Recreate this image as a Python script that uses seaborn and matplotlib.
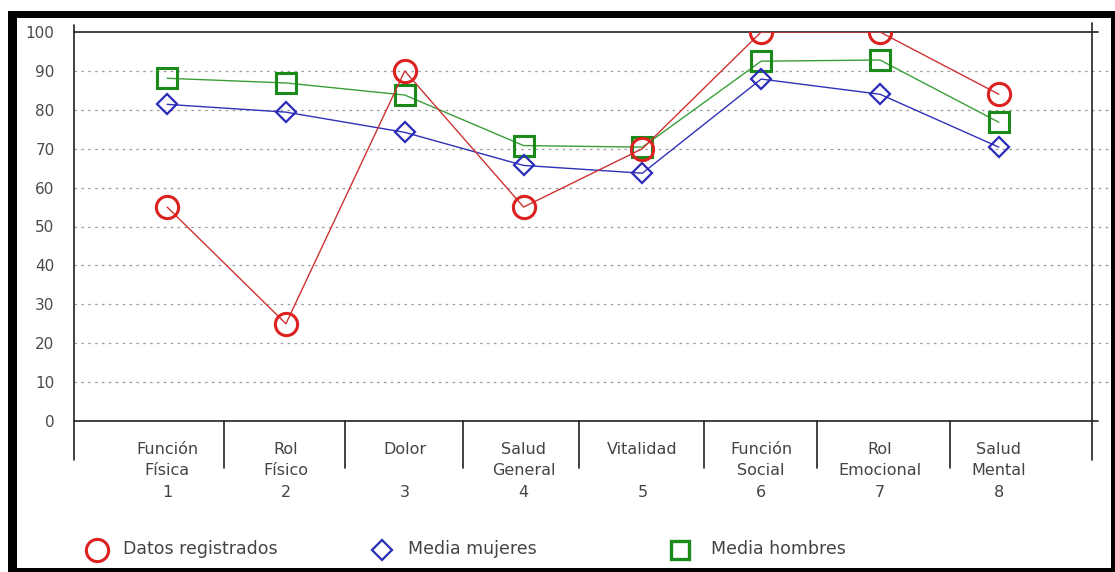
import seaborn as sns
import matplotlib.pyplot as plt
import pandas as pd
from matplotlib.patches import Rectangle
from matplotlib.lines import Line2D

# data
categories = ["Función\nFísica\n1", "Rol\nFísico\n2", "Dolor\n\n3", "Salud\nGeneral\n4",
              "Vitalidad\n\n5", "Función\nSocial\n6", "Rol\nEmocional\n7", "Salud\nMental\n8"]
positions = [1, 2, 3, 4, 5, 6, 7, 8]
datos_registrados = [55, 25, 90, 55, 70, 100, 100, 84]
media_mujeres = [81.4, 79.4, 74.2, 65.7, 63.7, 87.9, 84.0, 70.4]
media_hombres = [88.1, 86.9, 83.8, 70.8, 70.4, 92.5, 92.8, 76.8]
yticks = [0, 10, 20, 30, 40, 50, 60, 70, 80, 90, 100]
separators = [1.48, 2.50, 3.49, 4.47, 5.52, 6.47, 7.59]

W, H = 1115, 572
sns.set_style("white")
plt.rcParams["font.family"] = ["DejaVu Sans"]

fig = plt.figure(figsize=(W / 100, H / 100), dpi=100)
ax = fig.add_axes([74 / W, 1 - 421 / H, (1098 - 74) / W, (421 - 32) / H])

df = pd.DataFrame({"x": positions, "datos": datos_registrados,
                   "mujeres": media_mujeres, "hombres": media_hombres})

sns.lineplot(data=df, x="x", y="hombres", ax=ax, color="#3a9f3a", lw=1.0,
             marker="s", markersize=15, markerfacecolor="none",
             markeredgecolor="#1a8a1a", markeredgewidth=2.2, sort=False, zorder=3)
sns.lineplot(data=df, x="x", y="mujeres", ax=ax, color="#3030b8", lw=1.0,
             marker="D", markersize=10.5, markerfacecolor="none",
             markeredgecolor="#2a2ab8", markeredgewidth=1.6, sort=False, zorder=4)
sns.lineplot(data=df, x="x", y="datos", ax=ax, color="#cc3333", lw=1.0,
             marker="o", markersize=16, markerfacecolor="none",
             markeredgecolor="#dd2020", markeredgewidth=2.2, sort=False, zorder=5)

ax.set_xlim(0.216, 8.835)
ax.set_ylim(0, 100)
for s in ax.spines.values():
    s.set_visible(False)

# axis lines
ax.axhline(0, color="#222222", lw=1.2, zorder=2, clip_on=False)
ax.axhline(100, color="#222222", lw=1.2, zorder=2, clip_on=False)
ax.axvline(0.216, ymin=-0.10, ymax=1.018, color="#222222", lw=1.2, clip_on=False)
ax.axvline(8.785, ymin=-0.10, ymax=1.023, color="#222222", lw=1.2, clip_on=False)
for sx in separators:
    ax.axvline(sx, ymin=-0.12, ymax=0, color="#222222", lw=1.2, clip_on=False)

# dotted grid
for yv in yticks[1:-1]:
    ax.axhline(yv, xmin=0, xmax=1.01, color="#9a9a9a", lw=0.9,
               linestyle=(0, (2, 3.5)), zorder=1, clip_on=False)

ax.set_yticks(yticks)
ax.set_yticklabels([str(v) for v in yticks])
ax.tick_params(axis="y", length=4, width=1, color="#444444", pad=10,
               labelsize=11, labelcolor="#4a4a4a")
ax.set_xticks(positions)
ax.set_xticklabels(categories)
ax.tick_params(axis="x", length=0, pad=15, labelsize=11.5, labelcolor="#444444")
for t in ax.get_xticklabels():
    t.set_linespacing(1.55)
ax.set_xlabel("")
ax.set_ylabel("")

# legend
leg = [("Datos registrados", "o", "#dd2020", 16, 2.2, 97, 123),
       ("Media mujeres", "D", "#2a2ab8", 10, 1.6, 382, 408),
       ("Media hombres", "s", "#1a8a1a", 13, 2.4, 680, 711)]
for label, mk, col, ms, mew, mx, tx in leg:
    fig.add_artist(Line2D([mx / W], [1 - 550 / H], marker=mk, markersize=ms,
                          markerfacecolor="none", markeredgecolor=col,
                          markeredgewidth=mew, linestyle="none",
                          transform=fig.transFigure))
    fig.text(tx / W, 1 - 549 / H, label, fontsize=12.5, color="#444444", va="center")

# black frame around the picture
def band(x0, y0, x1, y1):
    fig.add_artist(Rectangle((x0 / W, 1 - y1 / H), (x1 - x0) / W, (y1 - y0) / H,
                             transform=fig.transFigure, color="black", lw=0))

band(8, 11, 17, 572)
band(8, 11, 1115, 18)
band(1111, 11, 1115, 572)
band(8, 568, 1115, 572)

fig.savefig("out.png", dpi=100)
